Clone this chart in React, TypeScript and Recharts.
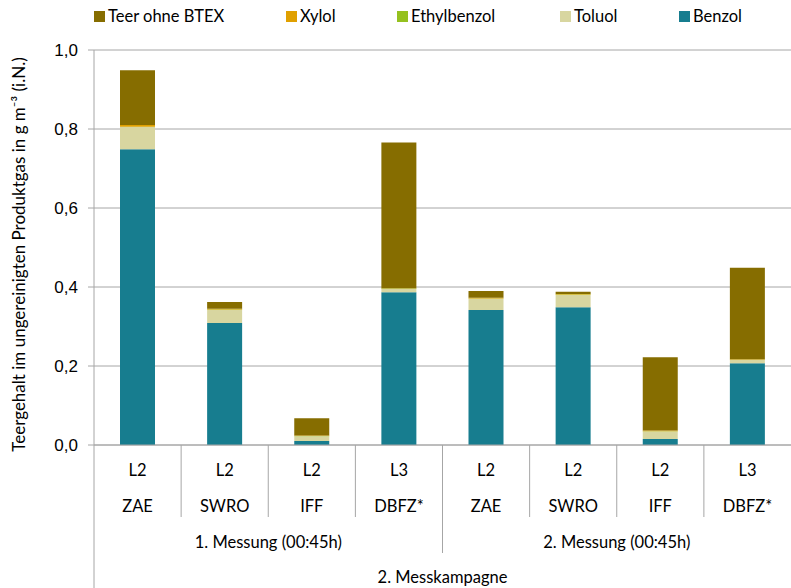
import { BarChart, Bar, XAxis, YAxis, CartesianGrid } from "recharts";

const sites = ["ZAE", "SWRO", "IFF", "DBFZ*", "ZAE", "SWRO", "IFF", "DBFZ*"];
const levels = ["L2", "L2", "L2", "L3", "L2", "L2", "L2", "L3"];
const groups = ["1. Messung (00:45h)", "2. Messung (00:45h)"];
const campaign = "2. Messkampagne";

const benzol = [0.749, 0.309, 0.010, 0.387, 0.342, 0.349, 0.015, 0.207];
const toluol = [0.056, 0.033, 0.012, 0.008, 0.028, 0.031, 0.019, 0.008];
const ethylbenzol = [0.001, 0.001, 0.001, 0.001, 0.001, 0.001, 0.001, 0.001];
const xylol = [0.004, 0.002, 0.001, 0.001, 0.002, 0.001, 0.002, 0.001];
const teer = [0.139, 0.017, 0.044, 0.369, 0.017, 0.006, 0.185, 0.232];

const yTicks = [0, 0.2, 0.4, 0.6, 0.8, 1.0];

// stacking order bottom -> top
const SERIES = [
  { key: "benzol", name: "Benzol", color: "#177d8f", values: benzol },
  { key: "toluol", name: "Toluol", color: "#d8d6a0", values: toluol },
  { key: "ethyl", name: "Ethylbenzol", color: "#95c11f", values: ethylbenzol },
  { key: "xylol", name: "Xylol", color: "#e0a000", values: xylol },
  { key: "teer", name: "Teer ohne BTEX", color: "#866d00", values: teer },
];

// legend order as in the original (top of stack first), with x offsets
const LEGEND_ORDER = ["teer", "xylol", "ethyl", "toluol", "benzol"];
const LEGEND_X = [94, 286, 397, 560, 679];

const W = 791;
const H = 588;
const TOP = 50;
const Y_W = 94;
const X_H = 143;
const BAND = (W - Y_W) / sites.length;
const LABEL_FONT = "Lato, 'Open Sans', sans-serif";
const TICK_FONT = "'Liberation Sans', Arial, sans-serif";

const data = sites.map((s, i) => {
  const row: Record<string, string | number> = { id: `${i}`, site: s, level: levels[i] };
  SERIES.forEach((se) => (row[se.key] = se.values[i]));
  return row;
});

function CategoryTick(props: any) {
  const { x, payload } = props;
  const i = Number(payload.value);
  const y0 = H - X_H;
  const left = x - BAND / 2;
  const groupSize = sites.length / groups.length;
  return (
    <g fontFamily={LABEL_FONT} fontSize={16.5} fill="#000">
      <text x={x} y={y0 + 31} textAnchor="middle">{levels[i]}</text>
      <text x={x} y={y0 + 66.5} textAnchor="middle">{sites[i]}</text>
      {i === 0 && (
        <>
          <line x1={left} x2={left} y1={y0} y2={H} stroke="#a6a6a6" />
          <text x={left + (BAND * sites.length) / 2} y={y0 + 137.5} textAnchor="middle">
            {campaign}
          </text>
        </>
      )}
      {i > 0 && i % groupSize !== 0 && (
        <line x1={left} x2={left} y1={y0} y2={y0 + 72} stroke="#a6a6a6" />
      )}
      {i > 0 && i % groupSize === 0 && (
        <line x1={left} x2={left} y1={y0} y2={y0 + 108} stroke="#a6a6a6" />
      )}
      {i % groupSize === 0 && (
        <text x={left + (BAND * groupSize) / 2} y={y0 + 102.5} textAnchor="middle">
          {groups[i / groupSize]}
        </text>
      )}
    </g>
  );
}

function YLabel(props: any) {
  const { viewBox } = props;
  const cx = 18;
  const cy = viewBox.y + viewBox.height / 2 + 7;
  return (
    <text
      x={cx}
      y={cy}
      transform={`rotate(-90 ${cx} ${cy})`}
      textAnchor="middle"
      dominantBaseline="central"
      fontFamily={LABEL_FONT}
      fontSize={17}
      fill="#000"
    >
      Teergehalt im ungereinigten Produktgas in g m⁻³ (i.N.)
    </text>
  );
}

function LegendBox() {
  return (
    <>
      {LEGEND_ORDER.map((k, idx) => {
        const s = SERIES.find((se) => se.key === k)!;
        return (
          <div
            key={k}
            style={{
              position: "absolute",
              top: 9,
              left: LEGEND_X[idx],
              display: "flex",
              alignItems: "center",
              fontFamily: LABEL_FONT,
              fontSize: 16.5,
              lineHeight: "14px",
              color: "#000",
              whiteSpace: "nowrap",
            }}
          >
            <span style={{ width: 11, height: 11, background: s.color, marginRight: 3 }} />
            <span>{s.name}</span>
          </div>
        );
      })}
    </>
  );
}

export default function App() {
  return (
    <div style={{ position: "fixed", top: 0, left: 0, width: W, height: H, overflow: "hidden", background: "#fff" }}>
      <LegendBox />
      <BarChart width={W} height={H} data={data} margin={{ top: TOP, right: 0, bottom: 0, left: 0 }} barSize={35}>
        <CartesianGrid vertical={false} stroke="#a6a6a6" />
        <XAxis
          dataKey="id"
          height={X_H}
          tickLine={false}
          tickSize={0}
          tickMargin={0}
          axisLine={{ stroke: "#a6a6a6" }}
          tick={<CategoryTick />}
          interval={0}
        />
        <YAxis
          width={Y_W}
          domain={[0, 1]}
          ticks={yTicks}
          tickFormatter={(v: number) => v.toFixed(1).replace(".", ",")}
          axisLine={{ stroke: "#a6a6a6" }}
          tickLine={{ stroke: "#a6a6a6" }}
          tickSize={6}
          tickMargin={10}
          tick={{ fontFamily: TICK_FONT, fontSize: 17, fill: "#000" }}
          label={<YLabel />}
        />
        {SERIES.map((s) => (
          <Bar
            key={s.key}
            dataKey={s.key}
            name={s.name}
            stackId="a"
            fill={s.color}
            isAnimationActive={false}
          />
        ))}
      </BarChart>
    </div>
  );
}
